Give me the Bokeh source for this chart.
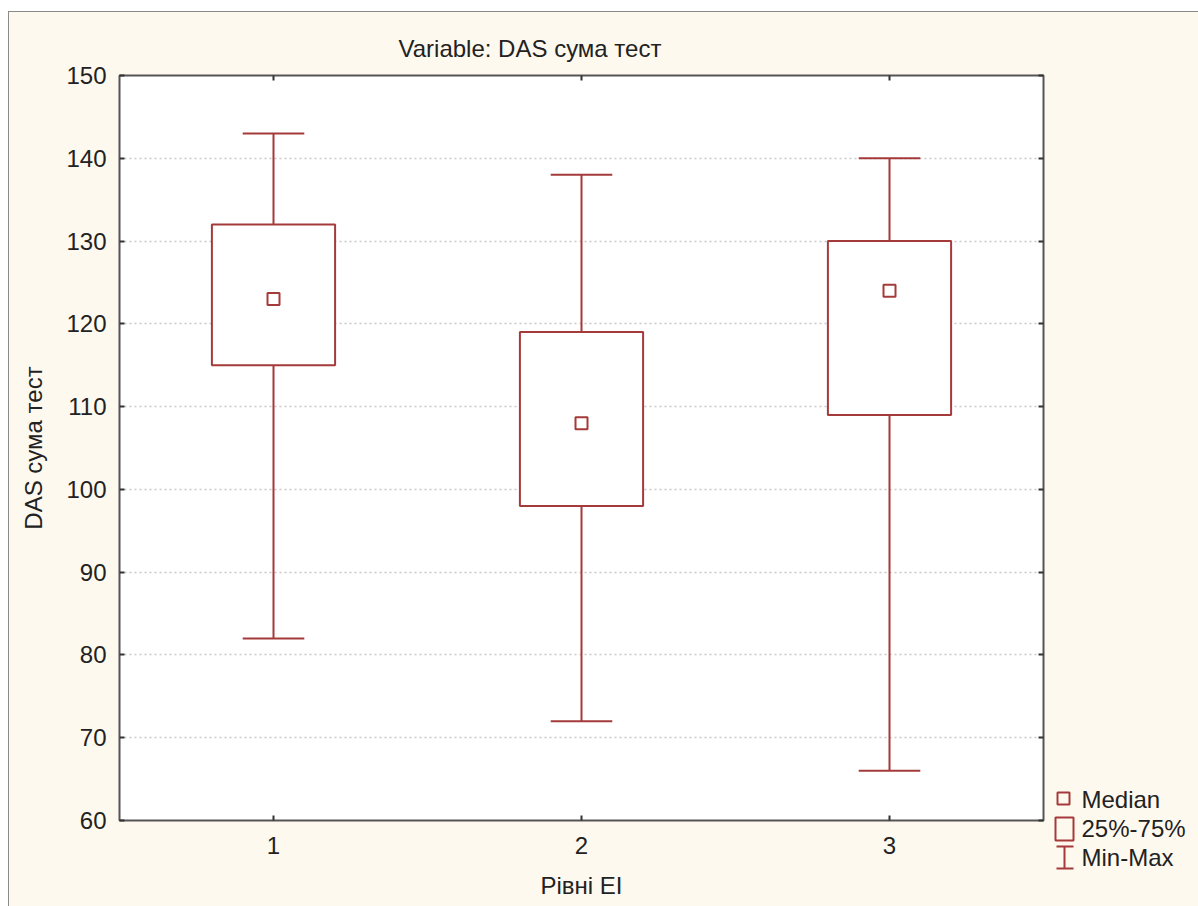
from bokeh.plotting import figure
from bokeh.models import ColumnDataSource, Range1d, LinearAxis, FixedTicker
from bokeh.layouts import row
from bokeh.core.properties import value
from bokeh.embed import file_html
from bokeh.resources import INLINE

# ---- data ----
groups = [1, 2, 3]
mins = [82, 72, 66]
q1s = [115, 98, 109]
medians = [123, 108, 124]
q3s = [132, 119, 130]
maxs = [143, 138, 140]
y_ticks = [60, 70, 80, 90, 100, 110, 120, 130, 140, 150]
title_text = "Variable: DAS сума тест"
y_label = "DAS сума тест"
x_label = "Рівні ЕІ"
legend_labels = ["Median", "25%-75%", "Min-Max"]

RED = "#A53A3A"
CREAM = "#FEF9EF"
FONT = "Liberation Sans"
FS = "24px"
TXT = "#222222"

BOX_W = 0.4
CAP_W = 0.2

src = ColumnDataSource(dict(
    x=groups, lo=mins, q1=q1s, med=medians, q3=q3s, hi=maxs,
    bl=[g - BOX_W / 2 for g in groups], br=[g + BOX_W / 2 for g in groups],
    cl=[g - CAP_W / 2 for g in groups], cr=[g + CAP_W / 2 for g in groups],
))

H = 894
p = figure(width=1036, height=H, output_backend="svg", toolbar_location=None,
           x_range=Range1d(0.5, 3.5), y_range=Range1d(60, 150),
           min_border_left=110, min_border_right=2, min_border_top=63,
           min_border_bottom=86, x_axis_location=None, y_axis_location=None,
           title=title_text)
p.frame_align = False
p.border_fill_color = CREAM
p.background_fill_color = "white"
p.outline_line_color = "#555555"
p.outline_line_width = 2
p.title.text_font = FONT
p.title.text_font_size = FS
p.title.text_font_style = "normal"
p.title.text_color = TXT
p.title.align = "left"
p.title.offset = 279
p.title.standoff = 28


def mk_axis(show_labels):
    return LinearAxis(axis_line_color=None, major_tick_in=5, major_tick_out=0,
                      minor_tick_line_color=None, major_tick_line_color="#333333",
                      major_tick_line_width=2,
                      major_label_text_font=FONT, major_label_text_font_size=FS,
                      major_label_text_color=TXT if show_labels else None)


left = mk_axis(True)
left.ticker = FixedTicker(ticks=y_ticks)
left.major_label_standoff = 13
left.axis_label = y_label
left.axis_label_text_font = FONT
left.axis_label_text_font_size = FS
left.axis_label_text_font_style = "normal"
left.axis_label_text_color = TXT
left.axis_label_standoff = 16
p.add_layout(left, "left")

right = mk_axis(False)
right.ticker = FixedTicker(ticks=y_ticks)
right.major_label_text_font_size = "0px"
right.major_label_standoff = 0
p.add_layout(right, "right")

bottom = mk_axis(True)
bottom.ticker = FixedTicker(ticks=groups)
bottom.major_label_standoff = 16
bottom.axis_label = x_label
bottom.axis_label_text_font = FONT
bottom.axis_label_text_font_size = FS
bottom.axis_label_text_font_style = "normal"
bottom.axis_label_text_color = TXT
bottom.axis_label_standoff = 15
p.add_layout(bottom, "below")

top = mk_axis(False)
top.ticker = FixedTicker(ticks=groups)
top.major_label_text_font_size = "0px"
top.major_label_standoff = 0
p.add_layout(top, "above")

p.xgrid.grid_line_color = None
p.ygrid.ticker = FixedTicker(ticks=y_ticks)
p.ygrid.grid_line_color = "#C8C8C8"
p.ygrid.grid_line_dash = "2 3"
p.ygrid.grid_line_width = 1.5

# whiskers
p.segment(x0="x", y0="lo", x1="x", y1="hi", source=src, line_color=RED, line_width=2)
p.segment(x0="cl", y0="hi", x1="cr", y1="hi", source=src, line_color=RED, line_width=2)
p.segment(x0="cl", y0="lo", x1="cr", y1="lo", source=src, line_color=RED, line_width=2)
# boxes
p.quad(left="bl", right="br", bottom="q1", top="q3", source=src,
       fill_color="white", line_color=RED, line_width=2)
# medians
p.scatter(x="x", y="med", source=src, marker="square", size=12,
          fill_color="white", line_color=RED, line_width=2)

# ---- legend panel (pixel coordinates, y downward) ----
LW = 1198 - 9 - 1036
q = figure(width=LW, height=H, output_backend="svg", toolbar_location=None,
           x_range=Range1d(0, LW), y_range=Range1d(H, 0),
           min_border=0, x_axis_location=None, y_axis_location=None)
q.frame_align = False
q.border_fill_color = CREAM
q.background_fill_color = CREAM
q.outline_line_color = None
q.grid.grid_line_color = None

# median icon
q.scatter(x=[18], y=[786], marker="square", size=12, fill_color=None,
          line_color=RED, line_width=2)
# box icon
q.quad(left=[10], right=[28], top=[805], bottom=[828], fill_color=None,
       line_color=RED, line_width=2)
# min-max icon
q.segment(x0=[19, 11, 11], y0=[834, 834, 856], x1=[19, 28, 28], y1=[856, 834, 856],
          line_color=RED, line_width=2)
q.text(x=[36, 36, 36], y=[787, 816, 845], text=legend_labels,
       text_font=value(FONT), text_font_size=FS, text_color=TXT,
       text_align="left", text_baseline="middle")

layout = row(p, q)
layout.styles = {"margin-top": "11px", "margin-left": "8px",
                 "border-left": "1px solid #8a8a8a", "border-top": "1px solid #8a8a8a",
                 "background-color": CREAM}

open("out.html", "w").write(file_html(layout, INLINE))
